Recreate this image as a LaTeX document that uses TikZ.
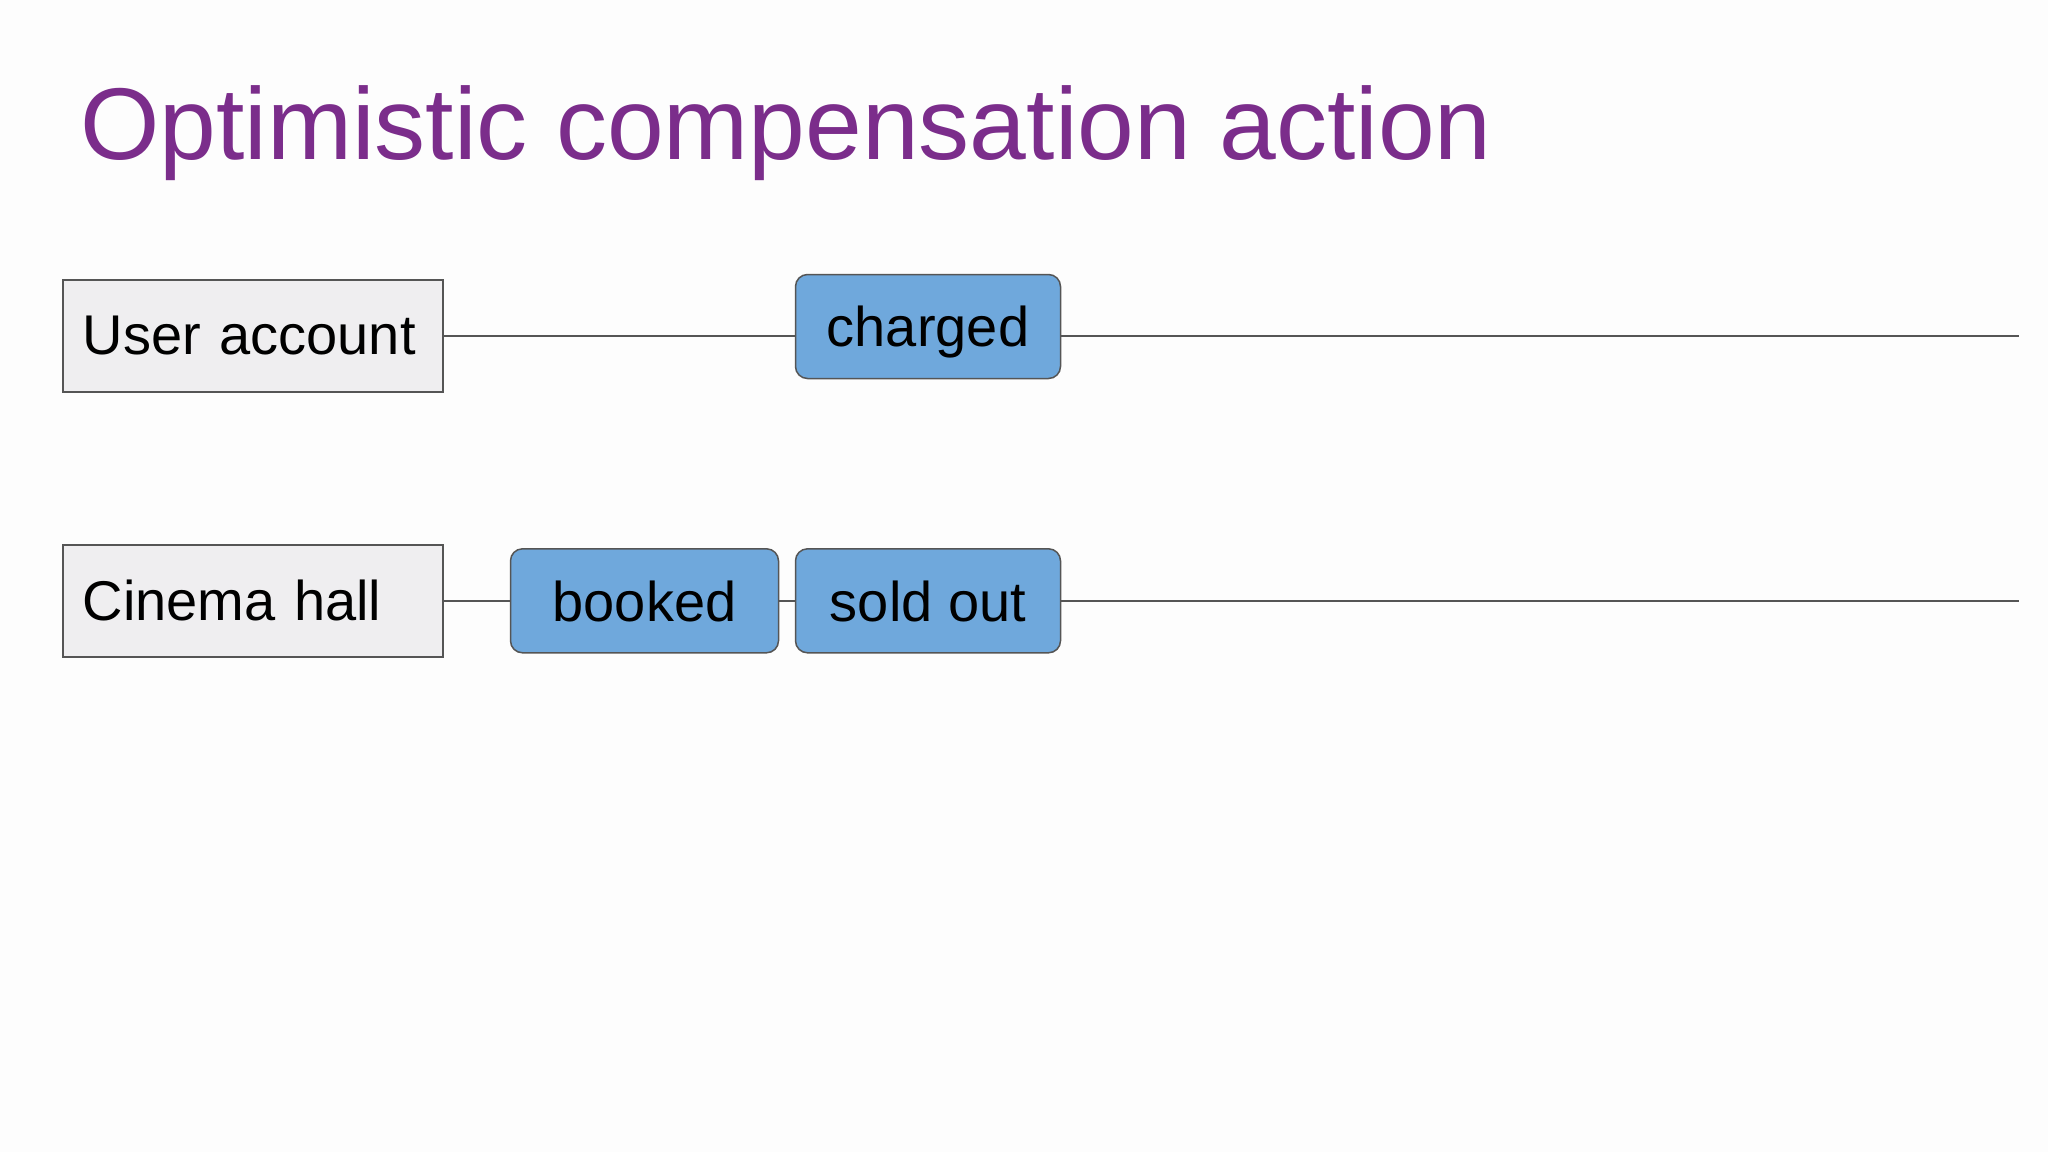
\documentclass[tikz,border=0pt]{standalone}
\usepackage{fontspec}
\setmainfont{Liberation Sans}
\definecolor{titlepurple}{RGB}{123,45,139}
\definecolor{lanefill}{RGB}{239,238,240}
\definecolor{evfill}{RGB}{111,168,220}
\definecolor{edgegray}{RGB}{85,85,85}
\definecolor{pagebg}{RGB}{253,253,253}
\begin{document}
\begin{tikzpicture}[x=1pt,y=1pt,
  lanebox/.style={draw=edgegray, line width=2pt, fill=lanefill, minimum width=380pt, minimum height=112pt, text width=340pt, align=left, inner sep=0pt, font=\fontsize{56}{60}\selectfont},
  evbox/.style={draw=edgegray, line width=1.5pt, fill=evfill, rounded corners=12pt, minimum height=104pt, inner sep=0pt, text depth=0pt, font=\fontsize{56}{60}\selectfont},
  wire/.style={draw=edgegray, line width=1.8pt}]
\useasboundingbox (0,0) rectangle (2048,-1152);
\fill[pagebg] (0,0) rectangle (2048,-1152);
\node[anchor=base west, text=titlepurple, font=\fontsize{102}{110}\selectfont, inner sep=0pt] (title) at (80,-159) {Optimistic compensation action};
\node[lanebox] (ua) at (252.7,-335.7) {User account};
\node[lanebox] (chall) at (252.7,-600.8) {Cinema hall};
\node[evbox, minimum width=265pt] (charged) at (928,-326.5) {charged};
\node[evbox, minimum width=268pt] (booked) at (644.5,-600.8) {booked};
\node[evbox, minimum width=265pt] (sold) at (928,-600.8) {sold out};
\coordinate (uaend) at (2019,-335.7);
\coordinate (chend) at (2019,-600.8);
\draw[wire] (ua.east) -- (ua.east -| charged.west);
\draw[wire] (ua.east -| charged.east) -- (uaend);
\draw[wire] (chall.east) -- (booked.west);
\draw[wire] (booked.east) -- (sold.west);
\draw[wire] (sold.east) -- (chend);
\end{tikzpicture}
\end{document}
